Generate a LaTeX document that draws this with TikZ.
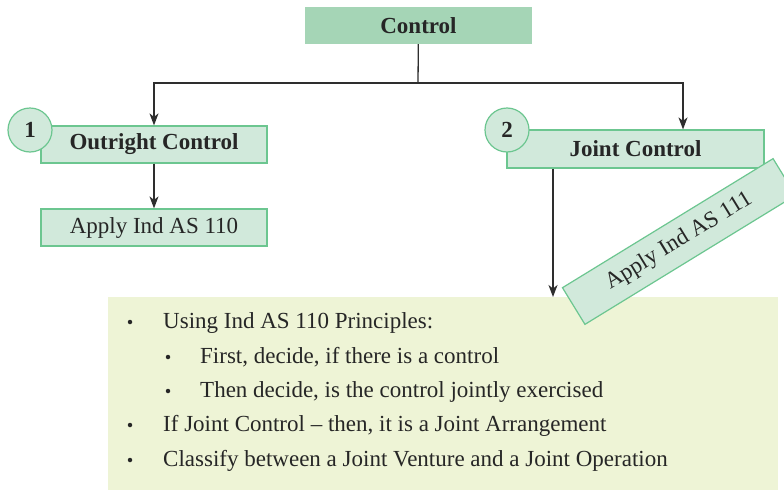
\documentclass[tikz,border=0pt]{standalone}
\usepackage{fontspec}
\setmainfont{Liberation Serif}
\usetikzlibrary{positioning,arrows.meta}
\definecolor{ctrlgreen}{HTML}{A5D5B6}
\definecolor{boxfill}{HTML}{D1E9DB}
\definecolor{boxedge}{HTML}{6CC690}
\definecolor{notefill}{HTML}{EEF4D6}
\definecolor{arrowgray}{HTML}{2E2E2E}

\begin{document}
\begin{tikzpicture}[x=1pt,y=-1pt,
box/.style={
	draw=boxedge, line width=1.2pt, fill=boxfill,
	minimum width=226pt, minimum height=37pt, inner sep=0pt,
	text=black!85, font=\fontsize{23}{26}\selectfont
},
num/.style={
	circle, draw=boxedge, line width=1.2pt, fill=boxfill,
	minimum size=44pt, inner sep=0pt,
	text=black!85, font=\fontsize{23}{26}\selectfont\bfseries
},
item/.style={anchor=base west, inner sep=0pt, text=black!85, font=\fontsize{23}{26}\selectfont},
dot/.style={circle, fill=black!85, minimum size=4.5pt, inner sep=0pt},
arr/.style={draw=arrowgray, line width=1.3pt, -{Stealth[length=12pt,width=9pt,inset=3.5pt]}},
wire/.style={draw=arrowgray, line width=1.3pt}
]
\path[use as bounding box, fill=white] (0,0) rectangle (784,490);

\node[fill=ctrlgreen, minimum width=227pt, minimum height=37pt, inner sep=0pt,
	text=black!85, font=\fontsize{23}{26}\selectfont\bfseries] (ctrl) at (418.5,25.5) {Control};
\coordinate (split) at (418,83);

\node[box, font=\fontsize{23}{26}\selectfont\bfseries] (outright) at (154,144.5) {Outright Control};
\node[box] (apply110) at (154,227.5) {Apply Ind AS 110};
\node[box, minimum width=257pt, minimum height=38pt, font=\fontsize{23}{26}\selectfont\bfseries] (joint) at (635.5,149) {Joint Control};
\node[num] (n1) at (30,130) {1};
\node[num] (n2) at (507,130) {2};

% note box with the bullets
\node[fill=notefill, minimum width=670pt, minimum height=193pt, inner sep=0pt, anchor=north west] (info) at (108,297) {};
\node[dot] (b1) at (130,322) {};
\node[item] (l1) at (163,328) {Using Ind AS 110 Principles:};
\node[dot] (b2) at (168,357) {};
\node[item] (l2) at (200,363) {First, decide, if there is a control};
\node[dot] (b3) at (168,391) {};
\node[item] (l3) at (200,397) {Then decide, is the control jointly exercised};
\node[dot] (b4) at (130,425) {};
\node[item] (l4) at (163,431) {If Joint Control -- then, it is a Joint Arrangement};
\node[dot] (b5) at (130,460) {};
\node[item] (l5) at (163,466) {Classify between a Joint Venture and a Joint Operation};

\node[box, rotate=31.5, minimum width=247pt, minimum height=43pt] (apply111) at (679,241.5) {Apply Ind AS 111};

\draw[wire] (ctrl) -- (split);
\draw[arr] (split) -| (outright);
\draw[arr] (split) -| ([xshift=47.5pt]joint.north);
\draw[arr] (outright) -- (apply110);
\draw[arr] ([xshift=-82.5pt]joint.south) -- ([xshift=-82.5pt]joint.south |- info.north);
\end{tikzpicture}
\end{document}
